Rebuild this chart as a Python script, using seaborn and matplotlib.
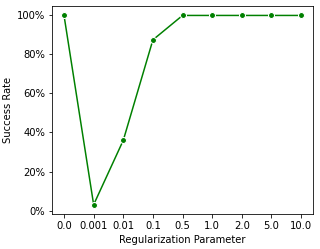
import matplotlib
matplotlib.use("Agg")
import matplotlib.pyplot as plt
import matplotlib.ticker as mtick
import seaborn as sns
import pandas as pd

reg_params = ["0.0", "0.001", "0.01", "0.1", "0.5", "1.0", "2.0", "5.0", "10.0"]
success_rate = [100, 3, 36, 87.5, 100, 100, 100, 100, 100]

# the reference looks like a default-style plot scaled down by ~0.72
s = 0.72
plt.rcParams.update({
    "font.size": 10 * s,
    "axes.linewidth": 0.8 * s,
    "axes.labelpad": 4 * s,
    "xtick.major.size": 3.5 * s,
    "ytick.major.size": 3.5 * s,
    "xtick.major.width": 0.8 * s,
    "ytick.major.width": 0.8 * s,
    "xtick.major.pad": 3.5 * s,
    "ytick.major.pad": 3.5 * s,
})

df = pd.DataFrame({"reg": reg_params, "rate": success_rate})

fig, ax = plt.subplots(figsize=(3.2, 2.49), dpi=100)
sns.lineplot(data=df, x="reg", y="rate", marker="o", color="green",
             markersize=6 * s, linewidth=1.5 * s, sort=False, ax=ax)
ax.yaxis.set_major_formatter(mtick.PercentFormatter(decimals=0))
ax.set_xlabel("Regularization Parameter")
ax.set_ylabel("Success Rate")
fig.subplots_adjust(left=0.163, right=0.978, top=0.976, bottom=0.14)
fig.savefig("out.png", dpi=100)
